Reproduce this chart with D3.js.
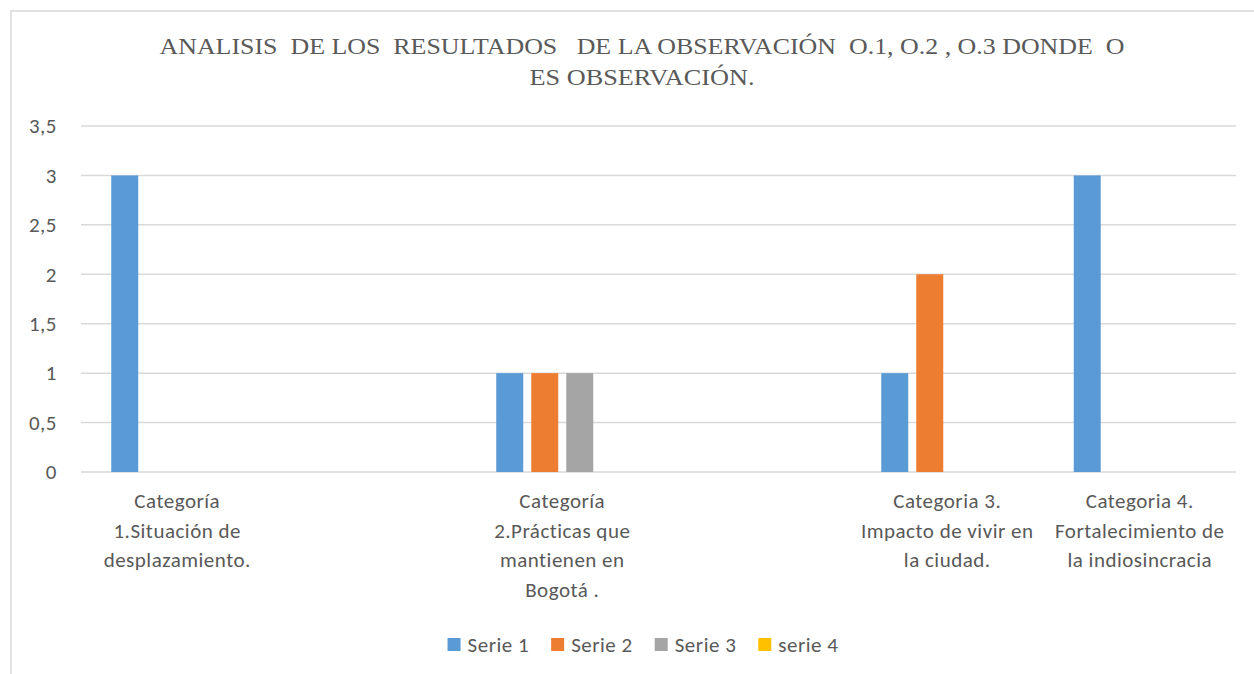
<!DOCTYPE html>
<html>
<head>
<meta charset="utf-8">
<script src="https://cdn.jsdelivr.net/npm/d3@7"></script>
<style>
  body { margin: 0; background: #fff; }
  text { fill: #595959; }
</style>
</head>
<body>
<svg width="1254" height="674"></svg>
<script>
// data (empty categories are blank slots in the original)
var categories = [
  ["Categoría", "1.Situación de", "desplazamiento."],
  [],
  ["Categoría", "2.Prácticas que", "mantienen en", "Bogotá ."],
  [],
  ["Categoria 3.", "Impacto de vivir en", "la ciudad."],
  ["Categoria 4.", "Fortalecimiento de", "la indiosincracia"]
];
var seriesNames = ["Serie 1", "Serie 2", "Serie 3", "serie 4"];
var serie1 = [3, 0, 1, 0, 1, 3];
var serie2 = [0, 0, 1, 0, 2, 0];
var serie3 = [0, 0, 1, 0, 0, 0];
var serie4 = [0, 0, 0, 0, 0, 0];
var colors = ["#5b9bd5", "#ed7d31", "#a5a5a5", "#ffc000"];
var yTicks = [0, 0.5, 1, 1.5, 2, 2.5, 3, 3.5];
var titleLines = ["ANALISIS  DE LOS  RESULTADOS   DE LA OBSERVACIÓN  O.1, O.2 , O.3 DONDE  O", "ES OBSERVACIÓN."];

var allSeries = [serie1, serie2, serie3, serie4];
var labelFont = "Carlito, Calibri, Lato, sans-serif";
var labelSize = 21, labelSpacing = 0.5;

var svg = d3.select("svg");

// outer frame
svg.append("rect")
  .attr("x", 11).attr("y", 11)
  .attr("width", 1260).attr("height", 680)
  .attr("fill", "none")
  .attr("stroke", "#d9d9d9")
  .attr("stroke-width", 1.5);

var x0 = d3.scaleBand().domain(d3.range(categories.length)).range([81, 1236]).padding(0);
var x1 = d3.scaleBand().domain(seriesNames).range([0, x0.bandwidth()])
  .paddingInner(0.229).paddingOuter(0.864);
var y = d3.scaleLinear().domain([0, 3.5]).range([472, 126]);

// gridlines
svg.append("g").selectAll("line").data(yTicks).enter().append("line")
  .attr("x1", 81).attr("x2", 1236)
  .attr("y1", function (d) { return y(d); })
  .attr("y2", function (d) { return y(d); })
  .attr("stroke", "#d9d9d9")
  .attr("stroke-width", 1.5);

// y axis labels
var yAxis = d3.axisLeft(y).tickValues(yTicks).tickSize(0).tickPadding(24)
  .tickFormat(function (d) { return String(d).replace(".", ","); });
var yg = svg.append("g").attr("transform", "translate(81,0)").call(yAxis);
yg.select(".domain").remove();
yg.selectAll("text")
  .attr("font-family", labelFont).attr("font-size", labelSize)
  .attr("letter-spacing", labelSpacing)
  .style("fill", "#595959");

// bars
allSeries.forEach(function (vals, s) {
  svg.append("g").selectAll("rect").data(vals).enter().append("rect")
    .attr("x", function (d, i) { return x0(i) + x1(seriesNames[s]); })
    .attr("y", function (d) { return y(d); })
    .attr("width", x1.bandwidth())
    .attr("height", function (d) { return y(0) - y(d); })
    .attr("fill", colors[s]);
});

// category labels
var cat = svg.append("g").selectAll("text").data(categories).enter().append("text")
  .attr("text-anchor", "middle")
  .attr("font-family", labelFont)
  .attr("font-size", labelSize)
  .attr("letter-spacing", labelSpacing);
cat.each(function (lines, i) {
  var t = d3.select(this);
  lines.forEach(function (l, k) {
    t.append("tspan")
      .attr("x", x0(i) + x0.bandwidth() / 2)
      .attr("y", 508 + k * 29.5)
      .text(l);
  });
});

// title
svg.append("g").selectAll("text").data(titleLines).enter().append("text")
  .attr("x", 642)
  .attr("y", function (d, i) { return 54 + i * 31; })
  .attr("text-anchor", "middle")
  .attr("font-family", "'Liberation Serif', 'Times New Roman', serif")
  .attr("font-size", 24)
  .style("white-space", "pre")
  .attr("textLength", function (d, i) { return i == 0 ? 965 : 225; })
  .attr("lengthAdjust", "spacingAndGlyphs")
  .text(function (d) { return d; });

// legend
var legend = svg.append("g");
var items = legend.selectAll("g").data(seriesNames).enter().append("g");
items.append("rect")
  .attr("width", 13).attr("height", 13)
  .attr("y", 638)
  .attr("fill", function (d, i) { return colors[i]; });
items.append("text")
  .attr("x", 20)
  .attr("y", 652)
  .attr("font-family", labelFont)
  .attr("font-size", labelSize)
  .attr("letter-spacing", labelSpacing)
  .text(function (d) { return d; });
var pos = 0, offsets = [];
items.each(function () {
  offsets.push(pos);
  pos += 20 + d3.select(this).select("text").node().getComputedTextLength() + 22;
});
var lx = 643 - (pos - 22) / 2;
items.attr("transform", function (d, i) { return "translate(" + (lx + offsets[i]) + ",0)"; });
</script>
</body>
</html>
